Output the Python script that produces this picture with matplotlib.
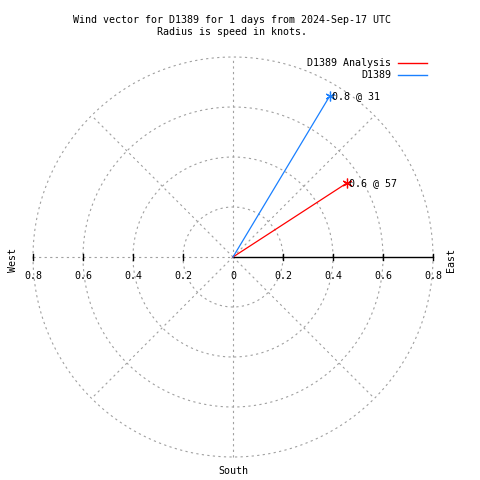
import numpy as np
import matplotlib.pyplot as plt

# wind vectors
names = ["D1389 Analysis", "D1389"]
speeds = [0.545, 0.75]
directions = [57, 31]  # degrees clockwise from north
point_labels = ["0.6 @ 57", "0.8 @ 31"]
colors = ["#ff0000", "#1a80ff"]

rings = [0.2, 0.4, 0.6, 0.8]
tick_labels = ["0.2", "0.4", "0.6", "0.8"]

title = "Wind vector for D1389 for 1 days from 2024-Sep-17 UTC\nRadius is speed in knots."

W = H = 480
cx, cy = 233, 257      # centre in pixels
scale = 250.0          # pixels per knot
grey = "#a0a0a0"
font = "DejaVu Sans Mono"
fs = 7.2


def fx(px):
    return px / W


def fy(py):
    return 1 - py / H


def main():
    fig = plt.figure(figsize=(4.8, 4.8), dpi=100)
    ax = fig.add_axes([0, 0, 1, 1])
    ax.set_xlim(-cx / scale, (W - cx) / scale)
    ax.set_ylim(-(H - cy) / scale, cy / scale)
    ax.axis("off")

    rmax = rings[-1]
    t = np.linspace(0, 2 * np.pi, 400)
    for r in rings:
        ax.plot(r * np.cos(t), r * np.sin(t), color=grey, lw=0.8, ls=(0, (2, 3)))

    # spokes
    for ang in [45, 135, 225, 315]:
        a = np.radians(ang)
        ax.plot([0, rmax * np.cos(a)], [0, rmax * np.sin(a)], color=grey, lw=0.8, ls=(0, (2, 3)))
    ax.plot([0, 0], [-rmax, rmax], color=grey, lw=0.8, ls=(0, (2, 3)))
    ax.plot([-rmax, 0], [0, 0], color=grey, lw=0.8, ls=(0, (2, 3)))

    # east axis
    ax.plot([0, rmax], [0, 0], color="black", lw=1)
    tk = 3 / scale
    for r, lab in zip(rings, tick_labels):
        ax.plot([r, r], [-tk, tk], color="black", lw=1)
        ax.plot([-r, -r], [-tk, tk], color="black", lw=1)
        ax.text(r, -19 / scale, lab, ha="center", va="center", family=font, fontsize=fs)
        ax.text(-r, -19 / scale, lab, ha="center", va="center", family=font, fontsize=fs)
    ax.text(0, -19 / scale, "0", ha="center", va="center", family=font, fontsize=fs)

    for s, d, c, lab in zip(speeds, directions, colors, point_labels):
        a = np.radians(d)
        x, y = s * np.sin(a), s * np.cos(a)
        ax.plot([0, x], [0, y], color=c, lw=0.9)
        ax.plot(x, y, marker=(6, 2, 0), color=c, ms=7, mew=0.9)
        ax.text(x + 2 / scale, y, lab, ha="left", va="center", family=font, fontsize=fs)

    fig.text(fx(232), fy(26), title, ha="center", va="center", family=font,
             fontsize=fs, linespacing=1.3)

    # legend
    for i, (n, c) in enumerate(zip(names, colors)):
        py = 63 + 12 * i
        fig.text(fx(391), fy(py), n, ha="right", va="center", family=font, fontsize=fs)
        fig.add_artist(plt.Line2D([fx(398), fx(427)], [fy(py), fy(py)], color=c, lw=1))

    fig.text(fx(13), fy(260), "West", rotation=90, ha="center", va="center", family=font, fontsize=fs)
    fig.text(fx(451), fy(260), "East", rotation=90, ha="center", va="center", family=font, fontsize=fs)
    fig.text(fx(233), fy(471), "South", ha="center", va="center", family=font, fontsize=fs)

    fig.savefig("out.png", dpi=100)


if __name__ == '__main__':
    main()
